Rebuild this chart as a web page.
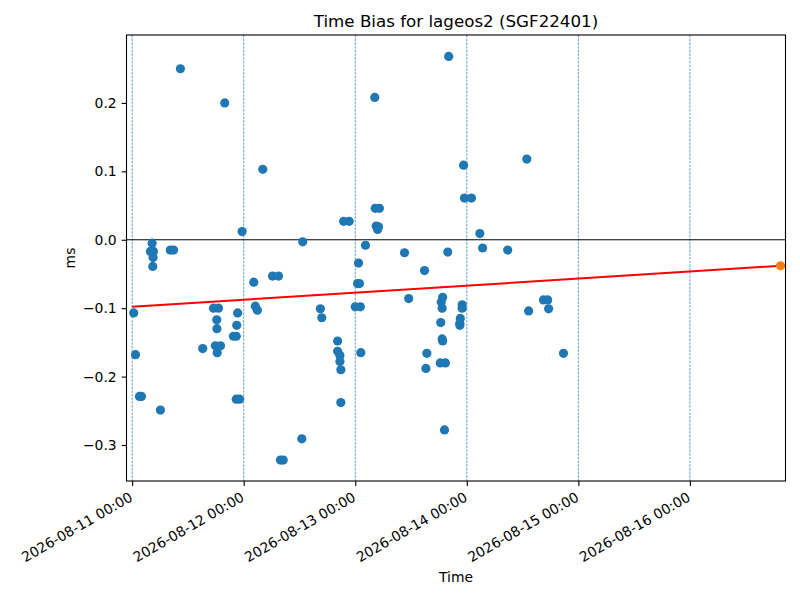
<!DOCTYPE html>
<html>
<head>
<meta charset="utf-8">
<script src="https://cdn.jsdelivr.net/npm/d3@7"></script>
<style>
  body { margin: 0; background: #fff; }
  svg { font-family: "DejaVu Sans", sans-serif; }
</style>
</head>
<body>
<div id="chart"></div>
<script>
// observation times (UTC) and time bias values in ms
const times = [
  "2026-08-11 00:20", "2026-08-11 00:43", "2026-08-11 01:34", "2026-08-11 02:00",
  "2026-08-11 04:18", "2026-08-11 03:56", "2026-08-11 04:35", "2026-08-11 04:30",
  "2026-08-11 04:26", "2026-08-11 06:05", "2026-08-11 08:12", "2026-08-11 08:54",
  "2026-08-11 10:23", "2026-08-11 15:11", "2026-08-11 17:30", "2026-08-11 18:34",
  "2026-08-11 18:12", "2026-08-11 18:14", "2026-08-11 17:54", "2026-08-11 19:00",
  "2026-08-11 18:18", "2026-08-11 19:55", "2026-08-11 21:48", "2026-08-11 22:24",
  "2026-08-11 22:42", "2026-08-11 22:30", "2026-08-11 22:24", "2026-08-11 23:06",
  "2026-08-11 23:40", "2026-08-12 02:10", "2026-08-12 02:30", "2026-08-12 02:57",
  "2026-08-12 04:06", "2026-08-12 06:12", "2026-08-12 07:30", "2026-08-12 07:54",
  "2026-08-12 08:30", "2026-08-12 12:30", "2026-08-12 12:42", "2026-08-12 16:30",
  "2026-08-12 16:48", "2026-08-12 20:12", "2026-08-12 20:12", "2026-08-12 20:42",
  "2026-08-12 20:42", "2026-08-12 20:54", "2026-08-12 20:54", "2026-08-12 21:30",
  "2026-08-12 22:42", "2026-08-13 00:00", "2026-08-13 01:06", "2026-08-13 00:30",
  "2026-08-13 00:54", "2026-08-13 00:42", "2026-08-13 01:12", "2026-08-13 02:12",
  "2026-08-13 04:12", "2026-08-13 04:18", "2026-08-13 05:12", "2026-08-13 04:30",
  "2026-08-13 05:00", "2026-08-13 04:48", "2026-08-13 10:36", "2026-08-13 11:30",
  "2026-08-13 14:54", "2026-08-13 15:12", "2026-08-13 15:24", "2026-08-13 18:24",
  "2026-08-13 18:48", "2026-08-13 18:30", "2026-08-13 18:42", "2026-08-13 18:42",
  "2026-08-13 18:48", "2026-08-13 18:18", "2026-08-13 19:24", "2026-08-13 19:12",
  "2026-08-13 19:54", "2026-08-13 20:06", "2026-08-13 23:00", "2026-08-13 23:00",
  "2026-08-13 22:36", "2026-08-13 22:30", "2026-08-13 22:30", "2026-08-13 23:18",
  "2026-08-13 23:30", "2026-08-14 01:00", "2026-08-14 02:48", "2026-08-14 03:24",
  "2026-08-14 08:48", "2026-08-14 12:54", "2026-08-14 13:18", "2026-08-14 16:30",
  "2026-08-14 17:24", "2026-08-14 17:36", "2026-08-14 20:48"
];
const bias = [
  -0.107, -0.168, -0.229, -0.229,
  -0.005, -0.017, -0.017, -0.026,
  -0.039, -0.249, -0.015, -0.015,
  0.250, -0.159, -0.100, -0.100,
  -0.117, -0.130, -0.155, -0.155,
  -0.165, 0.200, -0.141, -0.141,
  -0.107, -0.125, -0.233, -0.233,
  0.012, -0.062, -0.097, -0.103,
  0.103, -0.053, -0.053, -0.322,
  -0.322, -0.291, -0.003, -0.101,
  -0.114, -0.148, -0.163, -0.169,
  -0.178, -0.190, -0.238, 0.027,
  0.027, -0.098, -0.098, -0.064,
  -0.064, -0.034, -0.165, -0.008,
  0.208, 0.046, 0.046, 0.020,
  0.019, 0.015, -0.019, -0.086,
  -0.045, -0.188, -0.166, -0.121,
  -0.084, -0.091, -0.100, -0.145,
  -0.148, -0.180, -0.180, -0.278,
  -0.018, 0.268, -0.095, -0.100,
  -0.115, -0.125, -0.122, 0.109,
  0.061, 0.061, 0.009, -0.012,
  -0.015, 0.118, -0.104, -0.088,
  -0.088, -0.101, -0.166
];

// predicted point and linear trend
const predTime = ["2026-08-16 19:30"];
const predBias = [-0.038];
const trendTimes = ["2026-08-11 00:00", "2026-08-16 19:30"];
const trendBias = [-0.098, -0.038];

const dayTicks = ["2026-08-11", "2026-08-12", "2026-08-13", "2026-08-14", "2026-08-15", "2026-08-16"];
const yTicks = [-0.3, -0.2, -0.1, 0.0, 0.1, 0.2];

const width = 800;
const height = 600;
const margin = { top: 35, right: 14.5, bottom: 119, left: 126.5 };

const parseTime = d3.utcParse("%Y-%m-%d %H:%M");
const parseDay = d3.utcParse("%Y-%m-%d");

const points = times.map((t, i) => ({ t: parseTime(t), v: bias[i] }));
const pred = predTime.map((t, i) => ({ t: parseTime(t), v: predBias[i] }));
const trend = trendTimes.map((t, i) => ({ t: parseTime(t), v: trendBias[i] }));

const x = d3
  .scaleUtc()
  .domain([parseTime("2026-08-10 22:47"), parseTime("2026-08-16 20:34")])
  .range([margin.left, width - margin.right]);

const y = d3
  .scaleLinear()
  .domain([-0.3526, 0.2993])
  .range([height - margin.bottom, margin.top]);

const svg = d3
  .select("#chart")
  .append("svg")
  .attr("width", width)
  .attr("height", height);

const clip = svg
  .append("clipPath")
  .attr("id", "plot-clip")
  .append("rect")
  .attr("x", margin.left)
  .attr("y", margin.top)
  .attr("width", width - margin.left - margin.right)
  .attr("height", height - margin.top - margin.bottom);

const plot = svg.append("g").attr("clip-path", "url(#plot-clip)");

// dashed day lines
plot
  .append("g")
  .selectAll("line")
  .data(dayTicks.map(parseDay))
  .join("line")
  .attr("x1", (d) => x(d))
  .attr("x2", (d) => x(d))
  .attr("y1", margin.top)
  .attr("y2", height - margin.bottom)
  .attr("stroke", "#1f77b4")
  .attr("stroke-width", 0.7)
  .attr("stroke-dasharray", "2.6,1.1");

// zero line
plot
  .append("line")
  .attr("x1", margin.left)
  .attr("x2", width - margin.right)
  .attr("y1", y(0))
  .attr("y2", y(0))
  .attr("stroke", "#000")
  .attr("stroke-width", 1);

plot
  .append("g")
  .selectAll("circle")
  .data(points)
  .join("circle")
  .attr("cx", (d) => x(d.t))
  .attr("cy", (d) => y(d.v))
  .attr("r", 4.6)
  .attr("fill", "#1f77b4");

const line = d3
  .line()
  .x((d) => x(d.t))
  .y((d) => y(d.v));

plot
  .append("path")
  .datum(trend)
  .attr("d", line)
  .attr("fill", "none")
  .attr("stroke", "#ff0000")
  .attr("stroke-width", 2);

plot
  .append("g")
  .selectAll("circle")
  .data(pred)
  .join("circle")
  .attr("cx", (d) => x(d.t))
  .attr("cy", (d) => y(d.v))
  .attr("r", 4.6)
  .attr("fill", "#ff7f0e");

// axes
const xAxis = svg
  .append("g")
  .attr("transform", `translate(0,${height - margin.bottom})`)
  .call(
    d3
      .axisBottom(x)
      .tickValues(dayTicks.map(parseDay))
      .tickFormat(d3.utcFormat("%Y-%m-%d %H:%M"))
      .tickSizeInner(4.9)
      .tickSizeOuter(0)
  );

xAxis
  .selectAll("text")
  .attr("text-anchor", "end")
  .attr("dy", null)
  .attr("y", 0)
  .attr("transform", "translate(1,19) rotate(-30)")
  .style("font-size", "13.9px");

const yAxis = svg
  .append("g")
  .attr("transform", `translate(${margin.left},0)`)
  .call(
    d3
      .axisLeft(y)
      .tickValues(yTicks)
      .tickFormat((d) => d3.format(".1f")(d).replace("-", "\u2212"))
      .tickSizeInner(4.9)
      .tickSizeOuter(0)
      .tickPadding(4.9)
  );

yAxis.selectAll("text").style("font-size", "13.9px");

svg.selectAll(".domain").remove();
svg.selectAll(".tick line").attr("stroke", "#000").attr("stroke-width", 1.1);
svg.selectAll(".tick text").attr("fill", "#000").attr("font-family", "DejaVu Sans");

// frame
svg
  .append("rect")
  .attr("x", margin.left)
  .attr("y", margin.top)
  .attr("width", width - margin.left - margin.right)
  .attr("height", height - margin.top - margin.bottom)
  .attr("fill", "none")
  .attr("stroke", "#000")
  .attr("stroke-width", 1.1);

svg
  .append("text")
  .attr("x", (margin.left + width - margin.right) / 2)
  .attr("y", 27)
  .attr("text-anchor", "middle")
  .style("font-size", "16.7px")
  .text("Time Bias for lageos2 (SGF22401)");

svg
  .append("text")
  .attr("x", (margin.left + width - margin.right) / 2)
  .attr("y", 582)
  .attr("text-anchor", "middle")
  .style("font-size", "13.9px")
  .text("Time");

svg
  .append("text")
  .attr("transform", `translate(75,${(margin.top + height - margin.bottom) / 2}) rotate(-90)`)
  .attr("text-anchor", "middle")
  .style("font-size", "13.9px")
  .text("ms");
</script>
</body>
</html>
